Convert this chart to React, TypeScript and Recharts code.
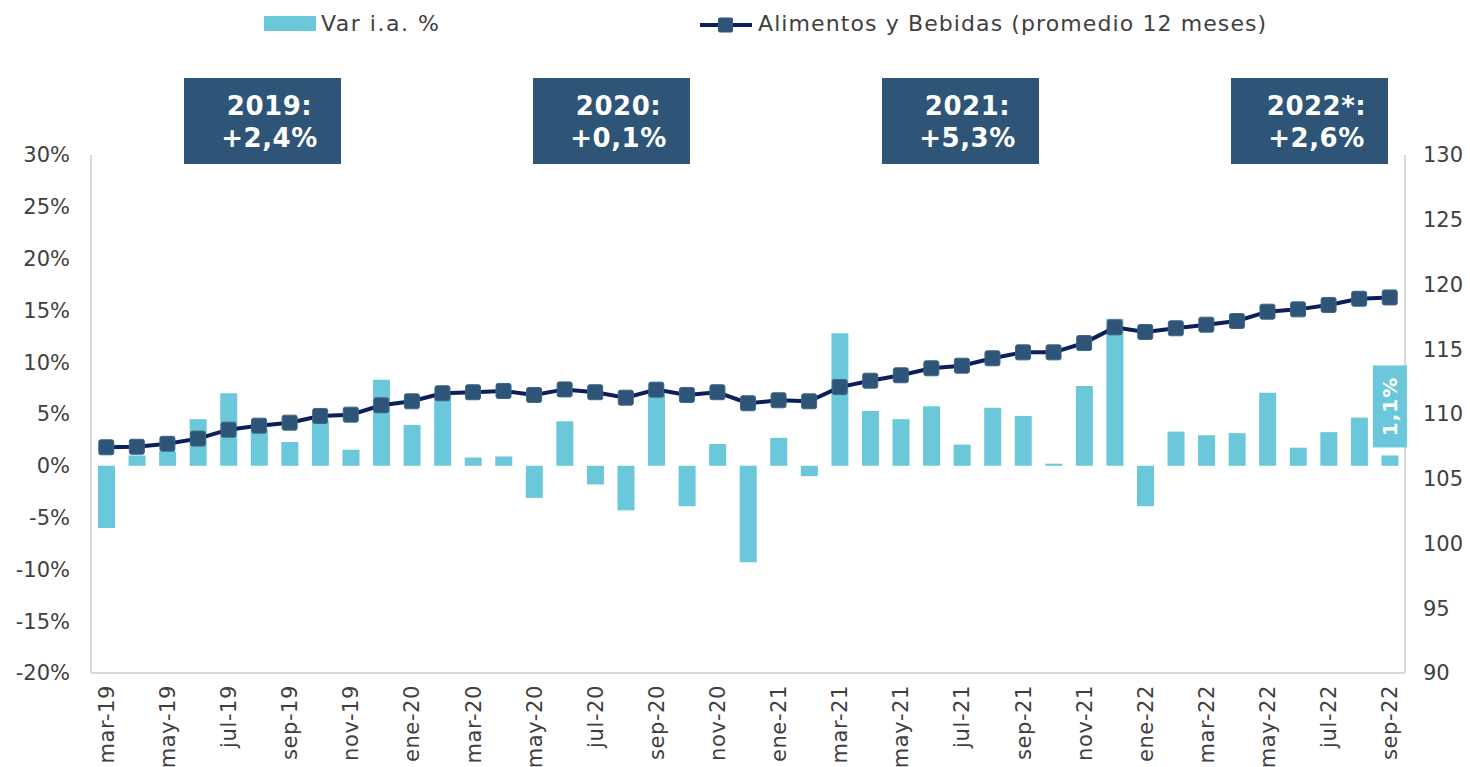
import React from 'react';
import { ComposedChart, Bar, Line, XAxis, YAxis, LabelList } from 'recharts';

const months = [
  'mar-19','abr-19','may-19','jun-19','jul-19','ago-19','sep-19','oct-19','nov-19','dic-19',
  'ene-20','feb-20','mar-20','abr-20','may-20','jun-20','jul-20','ago-20','sep-20','oct-20','nov-20','dic-20',
  'ene-21','feb-21','mar-21','abr-21','may-21','jun-21','jul-21','ago-21','sep-21','oct-21','nov-21','dic-21',
  'ene-22','feb-22','mar-22','abr-22','may-22','jun-22','jul-22','ago-22','sep-22',
];

const varIA = [
  -6.0, 1.0, 1.4, 4.5, 7.0, 3.5, 2.3, 4.3, 1.55, 8.3,
  3.95, 6.8, 0.8, 0.9, -3.1, 4.3, -1.8, -4.3, 7.0, -3.9, 2.1, -9.3,
  2.7, -1.0, 12.8, 5.3, 4.5, 5.75, 2.05, 5.6, 4.8, 0.2, 7.7, 14.2,
  -3.9, 3.3, 2.95, 3.15, 7.05, 1.75, 3.25, 4.65, 1.0,
];

const promedio12 = [
  107.43, 107.47, 107.7, 108.1, 108.79, 109.1, 109.33, 109.85, 109.95, 110.67,
  110.98, 111.6, 111.68, 111.78, 111.47, 111.9, 111.68, 111.26, 111.88, 111.47, 111.68, 110.83,
  111.06, 110.98, 112.08, 112.57, 112.99, 113.53, 113.73, 114.3, 114.76, 114.76, 115.48, 116.69,
  116.33, 116.62, 116.9, 117.18, 117.9, 118.08, 118.42, 118.9, 119.0,
];

const leftTicks = [-20, -15, -10, -5, 0, 5, 10, 15, 20, 25, 30];
const rightTicks = [90, 95, 100, 105, 110, 115, 120, 125, 130];

const yearTitles = ['2019:', '2020:', '2021:', '2022*:'];
const yearValues = ['+2,4%', '+0,1%', '+5,3%', '+2,6%'];
const lastLabel = '1,1%';

const data = months.map((m, i) => ({ mes: m, varIA: varIA[i], prom: promedio12[i] }));

const FONT = '"DejaVu Sans", Verdana, sans-serif';
const TXT = '#404040';
const CYAN = '#6AC8DA';
const NAVY_BOX = '#2E5578';
const NAVY_LINE = '#0B1F5C';

const XTick = (props: any) => {
  const { x, y, payload } = props;
  return (
    <text
      x={x}
      y={y}
      transform={`rotate(-90, ${x}, ${y})`}
      textAnchor="end"
      dy="0.36em"
      fill={TXT}
      fontSize={21}
      fontFamily={FONT}
      letterSpacing={0.6}
    >
      {payload.value}
    </text>
  );
};

const SquareDot = (props: any) => {
  const { cx, cy, index } = props;
  if (cx == null || cy == null) return null;
  const s = 15;
  return (
    <rect
      key={`d${index}`}
      x={cx - s / 2}
      y={cy - s / 2}
      width={s}
      height={s}
      rx={2}
      fill={NAVY_BOX}
      stroke="#3d6587"
      strokeWidth={1}
    />
  );
};

const LastBarLabel = (props: any) => {
  const { x, y, width, index } = props;
  if (index !== data.length - 1) return null;
  const cx = x + width / 2;
  const w = 34;
  const h = 82;
  const bottom = y - 8;
  const cy = bottom - h / 2;
  return (
    <g>
      <rect x={cx - w / 2} y={bottom - h} width={w} height={h} fill={CYAN} />
      <text
        x={cx}
        y={cy}
        transform={`rotate(-90, ${cx}, ${cy})`}
        textAnchor="middle"
        dy="0.36em"
        fill="#fff"
        fontWeight="bold"
        fontSize={20}
        fontFamily={FONT}
        letterSpacing={1}
      >
        {lastLabel}
      </text>
    </g>
  );
};

const boxLefts = [184, 533, 882, 1231];

export default function App() {
  return (
    <div style={{ position: 'absolute', left: 0, top: 0, width: 1470, height: 767, background: '#fff', fontFamily: FONT }}>
      <ComposedChart
        width={1470}
        height={767}
        data={data}
        margin={{ top: 155, right: 0, bottom: 0, left: 0 }}
      >
        <XAxis
          dataKey="mes"
          interval={1}
          tickLine={false}
          tickSize={0}
          tickMargin={12}
          height={94}
          axisLine={{ stroke: '#D9D9D9', strokeWidth: 2 }}
          tick={<XTick />}
        />
        <YAxis
          yAxisId="left"
          orientation="left"
          domain={[-20, 30]}
          ticks={leftTicks}
          width={91}
          tickLine={false}
          tickSize={0}
          tickMargin={21}
          axisLine={{ stroke: '#D9D9D9', strokeWidth: 2 }}
          tickFormatter={(v: number) => `${v}%`}
          tick={{ fill: TXT, fontSize: 21, fontFamily: FONT }}
          interval={0}
        />
        <YAxis
          yAxisId="right"
          orientation="right"
          domain={[90, 130]}
          ticks={rightTicks}
          width={65}
          tickLine={false}
          tickSize={0}
          tickMargin={18}
          axisLine={{ stroke: '#D9D9D9', strokeWidth: 2 }}
          tick={{ fill: TXT, fontSize: 21, fontFamily: FONT, textAnchor: 'start' }}
          interval={0}
        />
        <Bar yAxisId="left" dataKey="varIA" fill={CYAN} barSize={17} isAnimationActive={false}>
          <LabelList dataKey="varIA" content={<LastBarLabel />} />
        </Bar>
        <Line
          yAxisId="right"
          dataKey="prom"
          stroke={NAVY_LINE}
          strokeWidth={4}
          dot={<SquareDot />}
          activeDot={false}
          isAnimationActive={false}
        />
      </ComposedChart>

      {/* Legend */}
      <div style={{ position: 'absolute', left: 264, top: 16, width: 52, height: 15, background: CYAN }} />
      <div style={{ position: 'absolute', left: 321, top: 9, fontSize: 22, color: TXT, whiteSpace: 'nowrap', lineHeight: '30px', letterSpacing: 1.5 }}>
        Var i.a. %
      </div>
      <svg style={{ position: 'absolute', left: 698, top: 14 }} width={58} height={22}>
        <line x1={2} y1={11} x2={54} y2={11} stroke={NAVY_LINE} strokeWidth={4} />
        <rect x={20} y={3.5} width={15} height={15} rx={2} fill={NAVY_BOX} />
      </svg>
      <div style={{ position: 'absolute', left: 758, top: 9, fontSize: 22, color: TXT, whiteSpace: 'nowrap', lineHeight: '30px', letterSpacing: 1.1 }}>
        Alimentos y Bebidas (promedio 12 meses)
      </div>

      {/* Year boxes */}
      {yearTitles.map((t, i) => (
        <div
          key={t}
          style={{
            position: 'absolute',
            left: boxLefts[i],
            top: 78,
            width: 157,
            height: 86,
            background: NAVY_BOX,
            color: '#fff',
            fontWeight: 'bold',
            fontSize: 26,
            lineHeight: '32px',
            textAlign: 'center',
            paddingLeft: 14,
            boxSizing: 'border-box',
            paddingTop: 12,
            letterSpacing: 0.5,
          }}
        >
          <div>{t}</div>
          <div>{yearValues[i]}</div>
        </div>
      ))}
    </div>
  );
}
